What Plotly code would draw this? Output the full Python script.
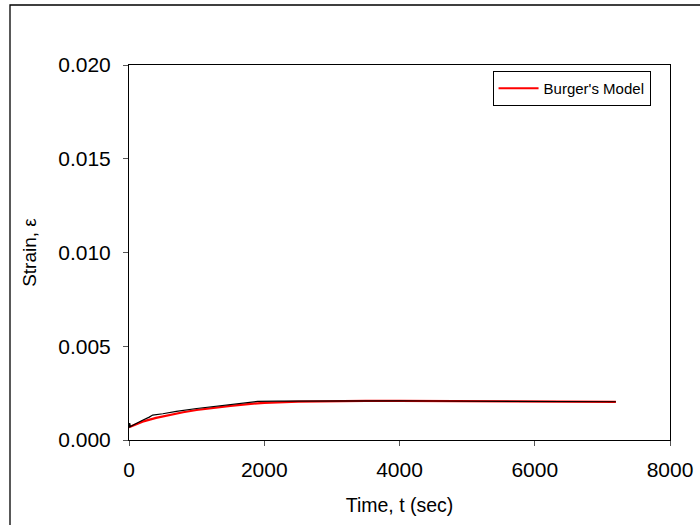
import plotly.graph_objects as go

# Experimental creep data (black)
t_exp = [0, 10, 20, 50, 100, 200, 300, 350, 500, 700, 1000, 1300, 1600, 1850, 1900,
         2200, 2600, 3000, 3500, 4000, 4500, 5000, 5500, 6000, 6500, 7000, 7200]
strain_exp = [0.00065, 0.00090, 0.00072, 0.00078, 0.00088, 0.00105, 0.00122, 0.00133,
              0.00140, 0.00153, 0.00168, 0.00180, 0.00192, 0.00205, 0.00206, 0.00207,
              0.00208, 0.00209, 0.00209, 0.00209, 0.00208, 0.00208, 0.00207, 0.00206,
              0.00205, 0.00204, 0.00204]

# Burger's model fit (red)
t_model = [0, 100, 200, 400, 600, 800, 1000, 1200, 1500, 1800, 2000, 2500, 3000, 3500,
           4000, 4500, 5000, 5500, 6000, 6500, 7000, 7200]
strain_model = [0.00068, 0.00085, 0.00098, 0.00118, 0.00134, 0.00148, 0.00160, 0.00170,
                0.00182, 0.00193, 0.00198, 0.00205, 0.00208, 0.00209, 0.00209, 0.00208,
                0.00207, 0.00206, 0.00205, 0.00204, 0.00203, 0.00203]

x_ticks = [0, 2000, 4000, 6000, 8000]
y_ticks = [0.000, 0.005, 0.010, 0.015, 0.020]
y_tick_labels = ["0.000", "0.005", "0.010", "0.015", "0.020"]

fig = go.Figure()
fig.add_trace(go.Scatter(x=t_model, y=strain_model, mode="lines", name="Burger's Model",
                         line=dict(color="#ff0000", width=2.2)))
fig.add_trace(go.Scatter(x=t_exp, y=strain_exp, mode="lines", name="Experiment",
                         showlegend=False, line=dict(color="black", width=1.2)))

font = "Liberation Sans, Arial, sans-serif"
fig.update_layout(
    width=700, height=525,
    margin=dict(l=129, r=30, t=65, b=85),
    paper_bgcolor="white", plot_bgcolor="white",
    font=dict(family=font, color="black"),
    showlegend=True,
    legend=dict(x=0.672, y=0.984, xanchor="left", yanchor="top",
                bordercolor="black", borderwidth=1, bgcolor="white",
                font=dict(size=15, family=font),
                tracegroupgap=0, itemwidth=40),
    xaxis=dict(range=[0, 8000], tickvals=x_ticks, ticks="outside", ticklen=5,
               tickcolor="#555", showgrid=False, zeroline=False, automargin=False,
               showline=True, linecolor="black", linewidth=1, mirror=True,
               tickfont=dict(size=21, family=font), ticklabelstandoff=6,
               title=dict(text="Time, t (sec)", font=dict(size=19.5, family=font), standoff=18)),
    yaxis=dict(range=[0, 0.020], tickvals=y_ticks, ticktext=y_tick_labels,
               ticks="outside", ticklen=5, tickcolor="#555", automargin=False,
               showgrid=False, zeroline=False,
               showline=True, linecolor="black", linewidth=1, mirror=True,
               tickfont=dict(size=21, family=font), ticklabelstandoff=8,
               title=dict(text="Strain, ε", font=dict(size=19, family=font), standoff=16)),
    shapes=[dict(type="rect", xref="paper", yref="paper",
                 x0=(10 - 129) / 541, x1=1.2, y0=-0.4, y1=1 + 60 / 375,
                 line=dict(color="black", width=1.3), layer="below")],
)

fig.write_html("out.html")
